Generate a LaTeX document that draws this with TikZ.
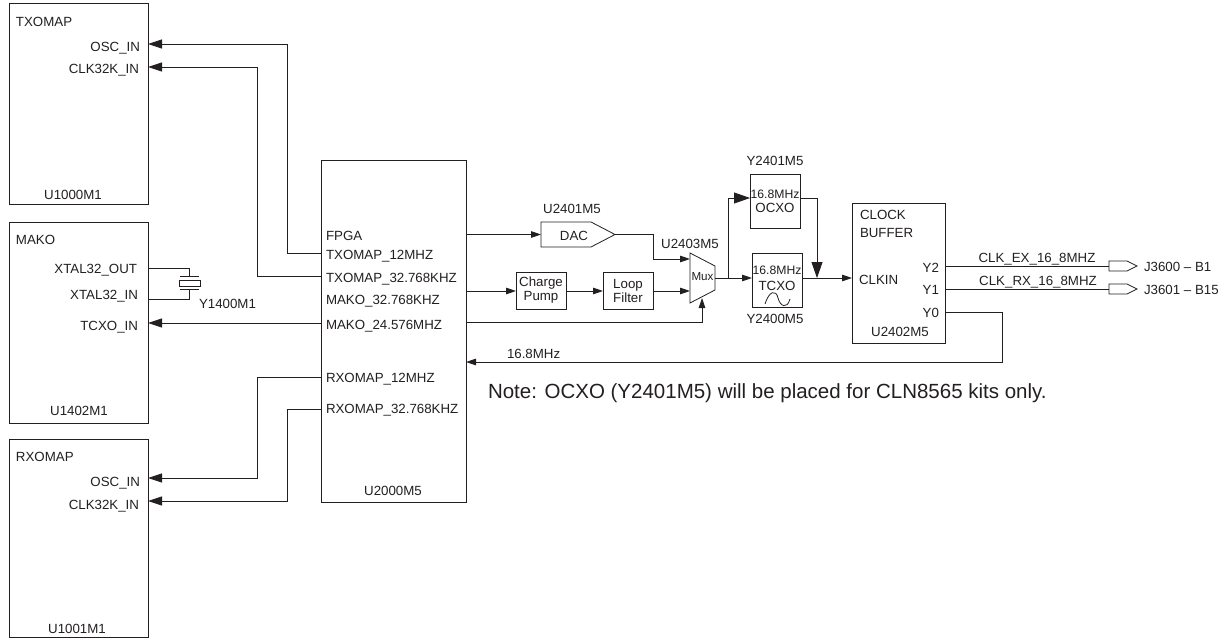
\documentclass[tikz,border=0pt]{standalone}
\usepackage{fontspec}
\setmainfont{Liberation Sans}
\usetikzlibrary{arrows.meta}
\definecolor{ink}{HTML}{231F20}
\tikzset{
  x=1pt,y=-1pt,
  every node/.style={text=ink,inner sep=0pt,outer sep=0pt,font=\fontsize{13.3}{14}\selectfont},
  blk/.style={draw=ink,line width=.8pt,fill=white},
  wire/.style={draw=ink,line width=.8pt},
  arr/.style={wire,-{Triangle[length=10pt,width=6.5pt]}},
  arl/.style={wire,-{Triangle[length=14pt,width=9pt]}},
  big/.style={wire,-{Triangle[length=16pt,width=11pt]}},
  lbl/.style={anchor=base west},
  rlbl/.style={anchor=base east},
  clbl/.style={anchor=base},
  small/.style={font=\fontsize{12.2}{13}\selectfont},
}
\begin{document}
\begin{tikzpicture}
\useasboundingbox (0,0) rectangle (1228,639);
% blocks
\node[blk,minimum width=139pt,minimum height=201pt] (txbox) at (78.5,103.5) {};
\node[blk,minimum width=139pt,minimum height=201pt] (makobox) at (78.5,322.5) {};
\node[blk,minimum width=139pt,minimum height=198pt] (rxbox) at (78.5,538) {};
\node[blk,minimum width=145pt,minimum height=342pt] (fpga) at (393.5,331) {};
\node[blk,minimum width=50pt,minimum height=37pt,align=center] (cp) at (541,290.5) {Charge\\Pump};
\node[blk,minimum width=50pt,minimum height=37pt,align=center] (lf) at (628,290.5) {Loop\\Filter};
\node[blk,minimum width=50pt,minimum height=54pt] (ocxo) at (775,201) {};
\node[blk,minimum width=50pt,minimum height=54pt] (tcxo) at (777,280) {};
\node[blk,minimum width=93pt,minimum height=140pt] (buf) at (898.5,273) {};
% coordinates for connectors
\coordinate (fTx) at (321,253); \coordinate (fTk) at (321,276);
\coordinate (fMk) at (321,323); \coordinate (fRx) at (321,377); \coordinate (fRk) at (321,409);
\coordinate (txO) at (148,44); \coordinate (txK) at (148,67);
\coordinate (mT) at (148,323);
\coordinate (rxO) at (148,478); \coordinate (rxK) at (148,501);
% left wires
\draw[arl] (fTx) -- (287,253) -- (287,44) -- (txO);
\draw[arl] (fTk) -- (257,276) -- (257,67) -- (txK);
\draw[arl] (fMk) -- (mT);
\draw[arl] (fRx) -- (257,377) -- (257,478) -- (rxO);
\draw[arl] (fRk) -- (287,409) -- (287,501) -- (rxK);
% crystal
\coordinate (xo) at (148,268); \coordinate (xi) at (148,299);
\draw[wire] (xo) -- (189,268) -- (189,276.5);
\draw[wire] (xi) -- (189,299) -- (189,289.5);
\draw[wire] (179.5,276.5) -- (198.5,276.5);
\draw[wire] (179.5,289.5) -- (198.5,289.5);
\draw[wire] (179.5,280) rectangle (200,286);
% DAC
\coordinate (dacIn) at (541,234.5); \coordinate (dacOut) at (615,234.5);
\draw[wire,fill=white] (541,222) -- (591,222) -- (dacOut) -- (591,247) -- (541,247) -- cycle;
\node[clbl] (dactxt) at (574,240) {DAC};
% mux
\draw[wire,fill=white] (690,253) -- (715,266) -- (715,290) -- (690,303) -- cycle;
\node[font=\fontsize{11.6}{13}\selectfont] (muxtxt) at (702.5,277) {Mux};
\coordinate (mA) at (690,259); \coordinate (mB) at (690,291); \coordinate (mC) at (702,298); \coordinate (mO) at (715,278);
% middle wires
\draw[arr] (466,234.5) -- (dacIn);
\draw[arr] (dacOut) -- (653,234.5) -- (653,259) -- (mA);
\draw[arr] (466,291) -- (cp.west |- 0,291);
\draw[arr] (cp.east |- 0,291) -- (lf.west |- 0,291);
\draw[arr] (lf.east |- 0,291) -- (mB);
\draw[arr] (466,322) -- (702,322) -- (mC);
\draw[arr] (mO) -- (tcxo.west |- 0,278);
\draw[big] (728,278) -- (728,198) -- (ocxo.west |- 0,198);
\draw[big] (ocxo.east |- 0,198) -- (817,198) -- (817,278);
\draw[arr] (tcxo.east |- 0,278) -- (buf.west |- 0,278);
\draw[arr] (buf.east |- 0,312) -- (1002,312) -- (1002,362) -- (466,362);
% outputs
\coordinate (j1) at (1109,266); \coordinate (j2) at (1109,289);
\draw[wire] (buf.east |- 0,266) -- (j1);
\draw[wire] (buf.east |- 0,289) -- (j2);
\draw[wire] (1109,261) -- (1127,261) -- (1137,266) -- (1127,271) -- (1109,271) -- cycle;
\draw[wire] (1109,284) -- (1127,284) -- (1137,289) -- (1127,294) -- (1109,294) -- cycle;
% sine
\draw[wire] (765,304) .. controls (769,291) and (776,289) .. (778,298) .. controls (780,306) and (787,310) .. (790,299);
% labels left boxes
\node[lbl] at (16,27) {TXOMAP};
\node[rlbl] at (140,51.5) {OSC\_IN};
\node[rlbl] at (139,74) {CLK32K\_IN};
\node[clbl] at (73,200) {U1000M1};
\node[lbl] at (16,244) {MAKO};
\node[rlbl] at (137,273) {XTAL32\_OUT};
\node[rlbl] at (138,299) {XTAL32\_IN};
\node[rlbl] at (138,330) {TCXO\_IN};
\node[clbl] at (79,415) {U1402M1};
\node[lbl] at (16,461) {RXOMAP};
\node[rlbl] at (140,486.5) {OSC\_IN};
\node[rlbl] at (139,509) {CLK32K\_IN};
\node[clbl] at (77,633) {U1001M1};
\node[lbl] at (199,308) {Y1400M1};
% FPGA labels
\node[lbl] at (326,240) {FPGA};
\node[lbl] at (326,259) {TXOMAP\_12MHZ};
\node[lbl] at (326,282) {TXOMAP\_32.768KHZ};
\node[lbl] at (326,304) {MAKO\_32.768KHZ};
\node[lbl] at (326,329) {MAKO\_24.576MHZ};
\node[lbl] at (326,382) {RXOMAP\_12MHZ};
\node[lbl] at (326,413) {RXOMAP\_32.768KHZ};
\node[clbl] at (393,495) {U2000M5};
% mid labels
\node[clbl] at (572,214) {U2401M5};
\node[clbl] at (690,248) {U2403M5};
\node[clbl] at (775,166) {Y2401M5};
\node[clbl] at (775,323) {Y2400M5};
\node[clbl,small] at (775,198) {16.8MHz};
\node[clbl] at (775,212) {OCXO};
\node[clbl,small] at (777,274) {16.8MHz};
\node[clbl] at (777,290) {TCXO};
\node[lbl] at (507,358) {16.8MHz};
% clock buffer labels
\node[lbl] at (860,219) {CLOCK};
\node[lbl] at (860,237) {BUFFER};
\node[lbl] at (859,284) {CLKIN};
\node[rlbl] at (939,272) {Y2};
\node[rlbl] at (939,294.5) {Y1};
\node[rlbl] at (939,317) {Y0};
\node[clbl] at (900,336) {U2402M5};
\node[clbl] at (1037,262) {CLK\_EX\_16\_8MHZ};
\node[clbl] at (1038,285) {CLK\_RX\_16\_8MHZ};
\node[lbl] at (1144,271) {J3600 – B1};
\node[lbl] at (1144,294) {J3601 – B15};
\node[lbl,font=\fontsize{20.5}{22}\selectfont] at (488,398) {Note: OCXO (Y2401M5) will be placed for CLN8565 kits only.};
\end{tikzpicture}
\end{document}
